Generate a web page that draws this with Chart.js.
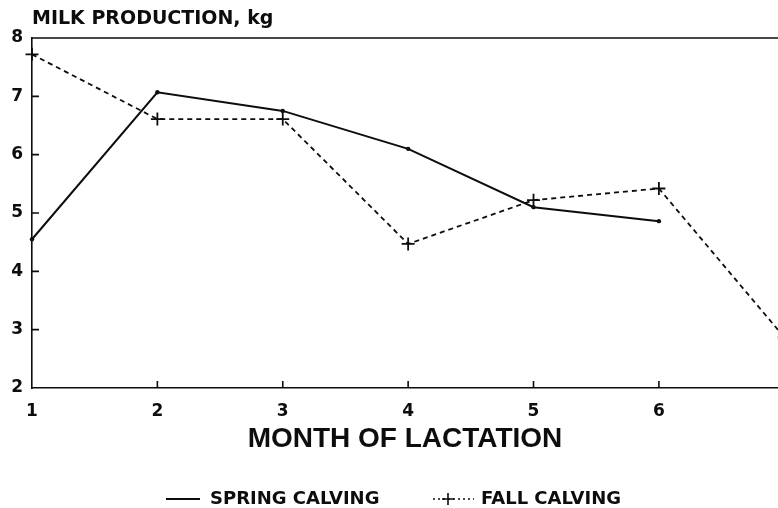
<!DOCTYPE html>
<html>
<head>
<meta charset="utf-8">
<script src="https://cdn.jsdelivr.net/npm/chart.js@4.4.1/dist/chart.umd.min.js"></script>
<style>
  html, body { margin: 0; padding: 0; background: #fff; }
  #wrap { width: 778px; height: 508px; }
</style>
</head>
<body>
<div id="wrap"><canvas id="milkChart" width="778" height="508"></canvas></div>
<script>
// data
var months = [1, 2, 3, 4, 5, 6, 7];
var springCalving = [4.55, 7.07, 6.75, 6.1, 5.1, 4.86];
var fallCalving = [7.72, 6.61, 6.61, 4.47, 5.22, 5.42, 2.87];
var xTicks = [1, 2, 3, 4, 5, 6];
var yTicks = [2, 3, 4, 5, 6, 7, 8];

var INK = '#0d0d0d';

function toPoints(vals) {
    return vals.map((v, i) => ({x: months[i], y: v}));
}

// title, top frame line, inward tick marks, legend
var extras = {
    id: 'extras',
    afterDraw(chart) {
        var ctx = chart.ctx, area = chart.chartArea;
        var xs = chart.scales.x, ys = chart.scales.y;
        ctx.save();
        ctx.strokeStyle = INK;
        ctx.lineWidth = 1.6;
        ctx.beginPath();
        ctx.moveTo(area.left, area.top);
        ctx.lineTo(area.right, area.top);
        // ticks pointing into the plot
        yTicks.forEach(v => {
            if (v === 2 || v === 8) return;
            var py = ys.getPixelForValue(v);
            ctx.moveTo(area.left, py);
            ctx.lineTo(area.left + 7, py);
        });
        xTicks.forEach(v => {
            if (v === 1) return;
            var px = xs.getPixelForValue(v);
            ctx.moveTo(px, area.bottom);
            ctx.lineTo(px, area.bottom - 7);
        });
        ctx.stroke();

        ctx.fillStyle = INK;
        ctx.font = 'bold 19px "DejaVu Sans"';
        ctx.textAlign = 'left';
        ctx.textBaseline = 'middle';
        ctx.fillText('MILK PRODUCTION, kg', area.left, 19);

        // legend
        var ly = 499;
        ctx.lineWidth = 1.8;
        ctx.beginPath();
        ctx.moveTo(166, ly);
        ctx.lineTo(200, ly);
        ctx.stroke();
        ctx.font = 'bold 18px "DejaVu Sans"';
        ctx.fillText('SPRING CALVING', 210, ly);

        ctx.lineWidth = 1.6;
        ctx.setLineDash([2, 3]);
        ctx.beginPath();
        ctx.moveTo(433, ly);
        ctx.lineTo(474, ly);
        ctx.stroke();
        ctx.setLineDash([]);
        ctx.beginPath();
        ctx.moveTo(448, ly - 6);
        ctx.lineTo(448, ly + 6);
        ctx.moveTo(442, ly);
        ctx.lineTo(454, ly);
        ctx.stroke();
        ctx.fillText('FALL CALVING', 481, ly);
        ctx.restore();
    }
};

var ctx = document.getElementById('milkChart').getContext('2d');
var chart = new Chart(ctx, {
    type: 'line',
    data: {
        datasets: [{
            label: 'SPRING CALVING',
            data: toPoints(springCalving),
            borderColor: INK,
            backgroundColor: INK,
            borderWidth: 2,
            pointStyle: 'circle',
            pointRadius: 2.2,
            pointBorderWidth: 0,
            pointBackgroundColor: INK,
            tension: 0,
            clip: {left: 10, top: 10, right: 0, bottom: 10}
        }, {
            label: 'FALL CALVING',
            data: toPoints(fallCalving),
            borderColor: INK,
            backgroundColor: INK,
            borderWidth: 1.8,
            borderDash: [5, 4],
            pointStyle: 'cross',
            pointRadius: 6.5,
            pointBorderWidth: 1.8,
            pointBorderColor: INK,
            tension: 0,
            clip: {left: 10, top: 10, right: 0, bottom: 10}
        }]
    },
    options: {
        responsive: false,
        animation: false,
        events: [],
        layout: {autoPadding: false, padding: {top: 38, left: 0, right: 0, bottom: 0}},
        plugins: {
            legend: {display: false},
            tooltip: {enabled: false},
            title: {display: false}
        },
        scales: {
            x: {
                type: 'linear',
                min: 1,
                max: 6.95,
                afterBuildTicks: s => { s.ticks = xTicks.map(v => ({value: v})); },
                afterFit: s => { s.height = 120; s.paddingLeft = 0; s.paddingRight = 0; },
                grid: {display: true, drawOnChartArea: false, drawTicks: false},
                border: {display: true, color: INK, width: 1.6},
                ticks: {color: INK, font: {family: 'DejaVu Sans', size: 17, weight: 'bold'}, padding: 13, maxRotation: 0},
                title: {
                    display: true,
                    text: 'MONTH OF LACTATION',
                    color: INK,
                    font: {family: 'Liberation Sans', size: 28, weight: 'bold'},
                    padding: {top: 0, bottom: 52}
                }
            },
            y: {
                min: 2,
                max: 8,
                afterBuildTicks: s => { s.ticks = yTicks.map(v => ({value: v})); },
                afterFit: s => { s.width = 32; },
                grid: {display: true, drawOnChartArea: false, drawTicks: false},
                border: {display: true, color: INK, width: 1.6},
                ticks: {color: INK, font: {family: 'DejaVu Sans', size: 17, weight: 'bold'}, padding: 9}
            }
        }
    },
    plugins: [extras]
});
</script>
</body>
</html>
